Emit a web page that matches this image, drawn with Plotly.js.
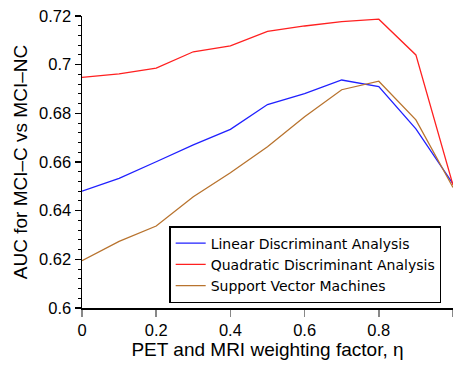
<!DOCTYPE html>
<html>
<head>
<meta charset="utf-8">
<script src="https://cdn.plot.ly/plotly-3.0.1.min.js"></script>
<style>html,body{margin:0;padding:0;background:#fff;}#chart{width:453px;height:365px;}</style>
</head>
<body>
<div id="chart"></div>
<script>
const eta = [0, 0.1, 0.2, 0.3, 0.4, 0.5, 0.6, 0.7, 0.8, 0.9, 1.0];
const lda = [0.6480, 0.6533, 0.6601, 0.6670, 0.6734, 0.6836, 0.6881, 0.6937, 0.6910, 0.6736, 0.6510];
const qda = [0.6948, 0.6962, 0.6986, 0.7053, 0.7077, 0.7137, 0.7159, 0.7177, 0.7187, 0.7040, 0.6505];
const svm = [0.6194, 0.6274, 0.6337, 0.6457, 0.6556, 0.6663, 0.6786, 0.6897, 0.6932, 0.6773, 0.6495];
const names = ['Linear Discriminant Analysis', 'Quadratic Discriminant Analysis', 'Support Vector Machines'];
const colors = ['#2020ff', '#ff2020', '#b8732e'];

const series = [lda, qda, svm];
const traces = series.map((s, i) => ({
  x: eta, y: s, type: 'scatter', mode: 'lines', name: names[i],
  line: {color: colors[i], width: 1.3}
}));

const font = "'Liberation Sans', Arial, sans-serif";
const lfont = "'DejaVu Sans', sans-serif";
const layout = {
  width: 453, height: 365,
  margin: {l: 82, r: 0, t: 16, b: 57},
  paper_bgcolor: '#fff', plot_bgcolor: '#fff',
  font: {family: font, size: 16, color: '#000'},
  showlegend: true,
  legend: {
    x: 0.235, y: 0.017, xanchor: 'left', yanchor: 'bottom',
    bgcolor: '#fff', bordercolor: '#000', borderwidth: 1.5,
    font: {family: lfont, size: 14, color: '#000'},
    tracegroupgap: 0
  },
  xaxis: {
    range: [0, 1], dtick: 0.2, tick0: 0,
    showgrid: false, zeroline: false,
    showline: true, linecolor: '#000', linewidth: 1.5,
    ticks: 'outside', ticklen: 7, tickcolor: '#888', tickwidth: 1.5,
    tickfont: {family: font, size: 16.5},
    title: {text: 'PET and MRI weighting factor, η', font: {family: font, size: 19}, standoff: 1}
  },
  yaxis: {
    range: [0.6, 0.72], dtick: 0.02, tick0: 0.6,
    showgrid: false, zeroline: false,
    showline: true, linecolor: '#000', linewidth: 1.5,
    ticks: 'outside', ticklen: 6, tickcolor: '#000', tickwidth: 1.5,
    minor: {dtick: 0.004, ticks: 'outside', ticklen: 3, tickcolor: '#000', tickwidth: 1},
    tickfont: {family: font, size: 16.5},
    title: {text: 'AUC for MCI–C vs MCI–NC', font: {family: font, size: 19}, standoff: 6}
  }
};
Plotly.newPlot('chart', traces, layout, {displayModeBar: false, staticPlot: true});
</script>
</body>
</html>
